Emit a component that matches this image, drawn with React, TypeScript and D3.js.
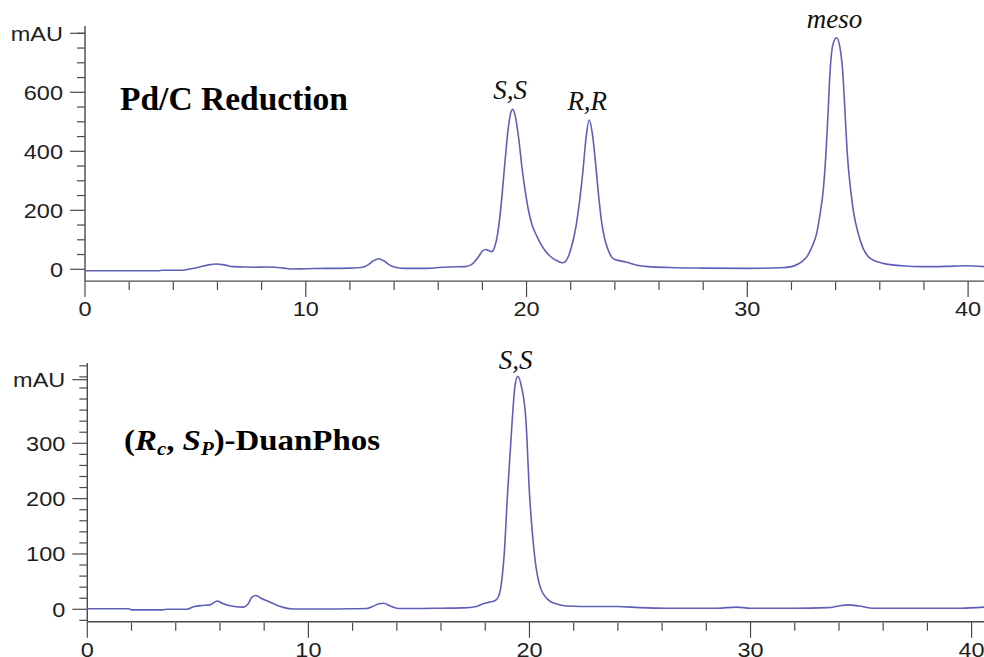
import React from "react";
import * as d3 from "d3";

// ---- Data (retention time in min, absorbance in mAU) ----
const topTime = [0, 3.3, 3.5, 4.4, 4.8, 5.2, 5.6, 5.96, 6.3, 6.7, 7.2, 7.7, 8.2, 8.6, 9.0, 9.4, 10, 11, 12, 12.5, 12.8, 13.05, 13.3, 13.55, 13.8, 14.1, 14.5, 15.5, 16.0, 16.5, 17.2, 17.5, 17.8, 18.0, 18.15, 18.3, 18.42, 18.55, 18.7, 18.85, 19.0, 19.15, 19.3, 19.38, 19.5, 19.65, 19.8, 19.95, 20.1, 20.25, 20.45, 20.65, 20.85, 21.06, 21.3, 21.5, 21.65, 21.8, 21.95, 22.1, 22.25, 22.4, 22.55, 22.7, 22.84, 22.98, 23.1, 23.25, 23.4, 23.55, 23.7, 23.85, 24.0, 24.5, 25.0, 25.5, 26.5, 28, 30, 31.5, 32.0, 32.3, 32.5, 32.7, 32.95, 33.14, 33.3, 33.44, 33.56, 33.65, 33.74, 33.87, 34.04, 34.2, 34.32, 34.42, 34.52, 34.68, 34.82, 35.02, 35.25, 35.48, 35.8, 36.16, 37, 38, 39, 39.9, 40.75];
const topValue = [-5, -5, -3, -3, 2, 8, 15, 18, 15, 9, 8, 7, 8, 7, 4, 1, 2, 3, 4, 6, 14, 28, 36, 28, 14, 6, 3, 3, 6, 8, 9, 16, 40, 62, 67, 63, 60, 75, 125, 220, 345, 465, 535, 542, 515, 440, 340, 260, 195, 150, 115, 85, 62, 45, 32, 25, 22, 30, 55, 95, 150, 230, 330, 450, 506, 460, 380, 260, 160, 100, 65, 42, 33, 25, 14, 9, 6, 4, 3, 5, 9, 18, 28, 43, 80, 122, 190, 269, 392, 520, 660, 760, 785, 750, 670, 540, 400, 269, 190, 122, 70, 43, 28, 20, 12, 9, 10, 12, 9];

const bottomTime = [0, 1.9, 2.0, 3.4, 3.6, 4.5, 4.84, 5.2, 5.55, 5.88, 6.1, 6.4, 7.06, 7.28, 7.45, 7.63, 7.9, 8.2, 8.6, 8.9, 9.3, 10, 11, 12, 12.64, 12.9, 13.2, 13.4, 13.7, 14.07, 15, 16, 17, 17.6, 17.9, 18.2, 18.45, 18.56, 18.71, 18.86, 19.01, 19.22, 19.34, 19.47, 19.64, 19.84, 20.0, 20.22, 20.48, 20.85, 21.2, 21.68, 23.0, 23.94, 25, 26.2, 28.5, 29.37, 30, 32, 33.5, 34.0, 34.42, 34.9, 35.55, 38, 39.5, 40.56];
const bottomValue = [1, 1, -1, -1, 0, 0, 5, 7, 8, 15, 11, 7, 4, 10, 22, 25, 19, 14, 7, 3, 0.5, 0.5, 0.5, 1, 1.5, 5, 10, 11, 6, 1.5, 1.5, 2, 2.5, 5, 10, 13, 16, 20, 41, 101, 210, 342, 402, 421, 402, 342, 210, 101, 41, 17, 10, 6, 5, 5, 3, 2, 2, 4, 2, 2, 3, 6, 8, 6, 2, 2, 2, 4];

const xMajorTicks = [0, 10, 20, 30, 40];
const topYMajorTicks = [0, 200, 400, 600];
const bottomYMajorTicks = [0, 100, 200, 300];

const topPeakLabels = [
  { text: "S,S", t: 19.35, v: 542 },
  { text: "R,R", t: 22.84, v: 506 },
  { text: "meso", t: 34.04, v: 785 },
];
const bottomPeakLabels = [{ text: "S,S", t: 19.47, v: 421 }];

const W = 984;
const H = 657;
const LINE = "#5f5fb8";
const AXIS = "#4a4a4a";
const TXT = "#1e1e1e";

type PanelProps = {
  time: number[];
  value: number[];
  xRange: [number, number];
  xDomainMax: number;
  yDomain: [number, number];
  yRange: [number, number];
  yAxisTopV: number;
  yAxisBottomV: number;
  yMajor: number[];
  yMinorStep: number;
  yMinorMin: number;
  mauV: number;
  peaks: { text: string; t: number; v: number }[];
  labelGap: number;
};

function Panel(p: PanelProps) {
  const x = d3.scaleLinear().domain([0, p.xDomainMax]).range(p.xRange);
  const y = d3.scaleLinear().domain(p.yDomain).range(p.yRange);
  const x0 = x(0);
  const axisY = y(p.yAxisBottomV);
  const axisTop = y(p.yAxisTopV);
  const pts = p.time.map((t, i) => [t, p.value[i]] as [number, number]);
  const line = d3
    .line<[number, number]>()
    .x((d) => x(d[0]))
    .y((d) => y(d[1]))
    .curve(d3.curveMonotoneX);
  const yMinor = d3.range(p.yMinorMin, p.yAxisTopV, p.yMinorStep).filter((v) => !p.yMajor.includes(v));
  const xMinor = d3.range(0, p.xDomainMax, 2).filter((v) => v % 10 !== 0);
  const xMajor = xMajorTicks.filter((v) => v <= p.xDomainMax);
  const sx = 1.12;
  return (
    <g>
      <line x1={x0} x2={x0} y1={axisTop} y2={axisY} stroke={AXIS} strokeWidth={1.4} />
      <line x1={x0} x2={W} y1={axisY} y2={axisY} stroke={AXIS} strokeWidth={1.4} />
      {yMinor.map((v) => (
        <line key={"ym" + v} x1={x0 - 8} x2={x0} y1={y(v)} y2={y(v)} stroke={AXIS} strokeWidth={1.2} />
      ))}
      {p.yMajor.concat([p.mauV]).map((v) => (
        <line key={"yM" + v} x1={x0 - 15} x2={x0} y1={y(v)} y2={y(v)} stroke={AXIS} strokeWidth={1.2} />
      ))}
      {p.yMajor.map((v) => (
        <text
          key={"yl" + v}
          transform={`translate(${x0 - 22},${y(v) + 7.5}) scale(${sx},1)`}
          textAnchor="end"
          fontFamily="Liberation Sans, Arial, sans-serif"
          fontSize={21}
          fill={TXT}
        >
          {v}
        </text>
      ))}
      <text
        transform={`translate(${x0 - 22},${y(p.mauV) + 7.5}) scale(${sx},1)`}
        textAnchor="end"
        fontFamily="Liberation Sans, Arial, sans-serif"
        fontSize={21}
        fill={TXT}
      >
        mAU
      </text>
      {xMinor.map((v) => (
        <line key={"xm" + v} x1={x(v)} x2={x(v)} y1={axisY + 1} y2={axisY + 9} stroke={AXIS} strokeWidth={1.2} />
      ))}
      {xMajor.map((v) => (
        <line key={"xM" + v} x1={x(v)} x2={x(v)} y1={axisY} y2={axisY + 16} stroke={AXIS} strokeWidth={1.2} />
      ))}
      {xMajor.map((v) => (
        <text
          key={"xl" + v}
          transform={`translate(${x(v)},${axisY + 35}) scale(${sx},1)`}
          textAnchor="middle"
          fontFamily="Liberation Sans, Arial, sans-serif"
          fontSize={21}
          fill={TXT}
        >
          {v}
        </text>
      ))}
      <path d={line(pts) || ""} fill="none" stroke={LINE} strokeWidth={1.6} strokeLinejoin="round" />
      {p.peaks.map((pk) => (
        <text
          key={pk.text + pk.t}
          x={x(pk.t) - 2}
          y={y(pk.v) - p.labelGap}
          textAnchor="middle"
          fontFamily="Liberation Serif, Times New Roman, serif"
          fontStyle="italic"
          fontSize={27}
          fill="#111"
        >
          {pk.text}
        </text>
      ))}
    </g>
  );
}

export default function App() {
  return (
    <svg
      width={W}
      height={H}
      viewBox={`0 0 ${W} ${H}`}
      style={{ position: "absolute", left: 0, top: 0, display: "block", background: "#fff" }}
    >
      <rect x={0} y={0} width={W} height={H} fill="#fff" />
      <Panel
        time={topTime}
        value={topValue}
        xRange={[85, 984]}
        xDomainMax={40.72}
        yDomain={[0, 800]}
        yRange={[269.3, 33.3]}
        yAxisTopV={825}
        yAxisBottomV={-40}
        yMajor={topYMajorTicks}
        yMinorStep={50}
        yMinorMin={0}
        mauV={800}
        peaks={topPeakLabels}
        labelGap={10}
      />
      <Panel
        time={bottomTime}
        value={bottomValue}
        xRange={[87.3, 984]}
        xDomainMax={40.56}
        yDomain={[0, 300]}
        yRange={[609.3, 443.3]}
        yAxisTopV={445}
        yAxisBottomV={-22.4}
        yMajor={bottomYMajorTicks}
        yMinorStep={20}
        yMinorMin={-20}
        mauV={415}
        peaks={bottomPeakLabels}
        labelGap={7}
      />
      <text
        x={120}
        y={110}
        fontFamily="Liberation Serif, Times New Roman, serif"
        fontWeight="bold"
        fontSize={33}
        textLength={228}
        lengthAdjust="spacingAndGlyphs"
        fill="#000"
      >
        Pd/C Reduction
      </text>
      <text
        x={124}
        y={450}
        fontFamily="Liberation Serif, Times New Roman, serif"
        fontWeight="bold"
        fontSize={30}
        textLength={256}
        lengthAdjust="spacingAndGlyphs"
        fill="#000"
      >
        <tspan>(</tspan>
        <tspan fontStyle="italic">R</tspan>
        <tspan fontStyle="italic" fontSize={19} dy={5}>c</tspan>
        <tspan dy={-5}>, </tspan>
        <tspan fontStyle="italic">S</tspan>
        <tspan fontStyle="italic" fontSize={19} dy={5}>P</tspan>
        <tspan dy={-5}>)-DuanPhos</tspan>
      </text>
    </svg>
  );
}
